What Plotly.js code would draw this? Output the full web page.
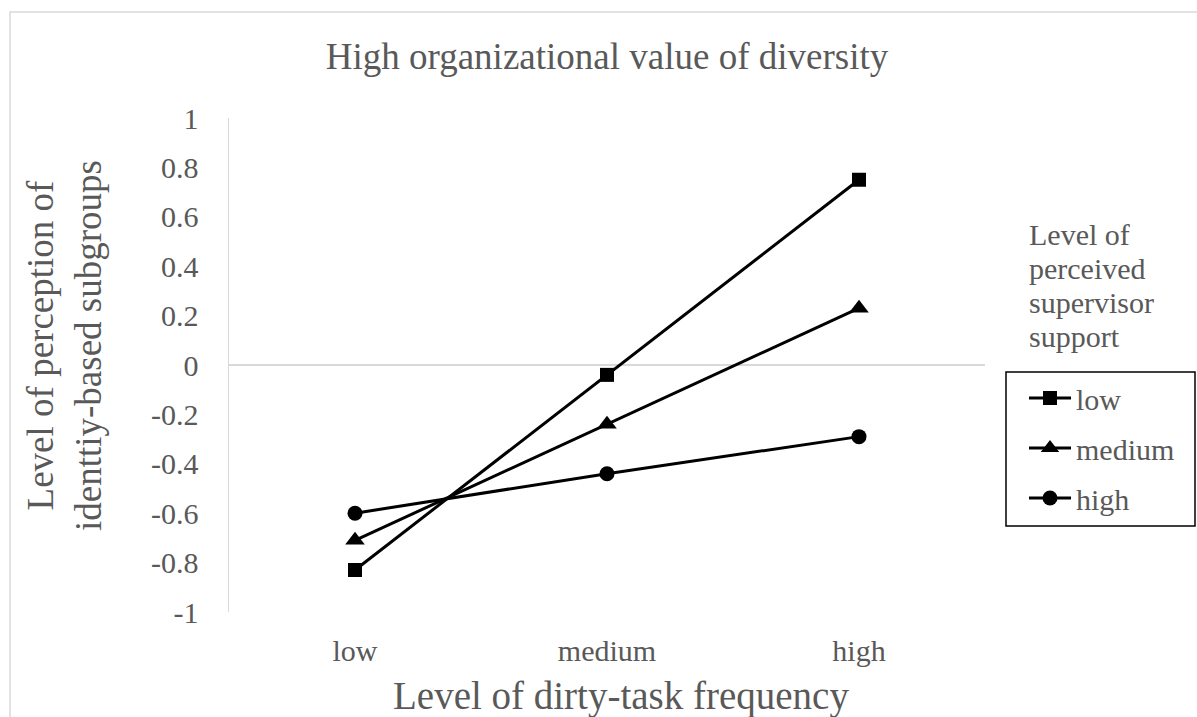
<!DOCTYPE html>
<html>
<head>
<meta charset="utf-8">
<script src="https://cdn.plot.ly/plotly-3.0.1.min.js"></script>
<style>
  html, body { margin: 0; padding: 0; background: #ffffff; }
  #chart { width: 1197px; height: 717px; }
</style>
</head>
<body>
<div id="chart"></div>
<script>
// Dirty-task frequency levels (x categories)
const categories = ['low', 'medium', 'high'];

// Perceived supervisor support series
const seriesNames = ['low', 'medium', 'high'];
const supportLow = [-0.83, -0.04, 0.75];
const supportMedium = [-0.71, -0.24, 0.23];
const supportHigh = [-0.60, -0.44, -0.29];

const yTickValues = [-1, -0.8, -0.6, -0.4, -0.2, 0, 0.2, 0.4, 0.6, 0.8, 1];
const yTickLabels = ['-1', '-0.8', '-0.6', '-0.4', '-0.2', '0', '0.2', '0.4', '0.6', '0.8', '1'];

const chartTitle = 'High organizational value of diversity';
const xTitle = 'Level of dirty-task frequency';
const yTitleLines = ['Level of perception of', 'identtiy-based subgroups'];
const legendTitleLines = ['Level of', 'perceived', 'supervisor', 'support'];

// Page geometry (pixels)
const W = 1197, H = 717;
const plotL = 229, plotR = 985, plotT = 118, plotB = 612;
const pw = plotR - plotL, ph = plotB - plotT;
const px = v => (v - plotL) / pw;   // pixel x -> paper x
const py = v => (plotB - v) / ph;   // pixel y -> paper y

const serif = 'Liberation Serif';
const grey = '#595959';
const axisGrey = '#d9d9d9';

const symbols = ['square', 'triangle-up', 'circle'];
const sizes = [14, 17, 15];
const values = [supportLow, supportMedium, supportHigh];

const traces = values.map((vals, i) => ({
  type: 'scatter',
  mode: 'lines+markers',
  name: seriesNames[i],
  legendgroup: 'g' + i,
  x: categories,
  y: vals,
  line: { color: '#000000', width: 3 },
  marker: { symbol: symbols[i], size: sizes[i], color: '#000000' },
  hoverinfo: 'x+y+name'
}));

const annotations = [];
// Y axis title, two rotated lines
annotations.push({
  xref: 'paper', yref: 'paper',
  x: px(64), y: py(346),
  xanchor: 'center', yanchor: 'middle',
  text: yTitleLines.join('<br>'),
  textangle: -90,
  showarrow: false,
  font: { family: serif, size: 37, color: grey }
});
// X axis title
annotations.push({
  xref: 'paper', yref: 'paper',
  x: px(621), y: py(696),
  xanchor: 'center', yanchor: 'middle',
  text: xTitle,
  showarrow: false,
  font: { family: serif, size: 39, color: grey }
});
// Legend heading, one line per annotation
const headTop = 234, headStep = 34;
legendTitleLines.forEach((t, i) => {
  annotations.push({
    xref: 'paper', yref: 'paper',
    x: px(1027), y: py(headTop + i * headStep),
    xanchor: 'left', yanchor: 'middle',
    text: t,
    showarrow: false,
    font: { family: serif, size: 30, color: grey }
  });
});

const layout = {
  width: W, height: H,
  paper_bgcolor: '#ffffff',
  plot_bgcolor: '#ffffff',
  margin: { l: plotL, r: W - plotR, t: plotT, b: H - plotB, pad: 0 },
  title: {
    text: chartTitle,
    font: { family: serif, size: 37, color: grey },
    xref: 'paper', x: 0.5, xanchor: 'center',
    yref: 'container', y: 1 - 56 / H, yanchor: 'middle'
  },
  xaxis: {
    type: 'category',
    range: [-0.5, 2.5],
    showgrid: false,
    showline: false,
    zeroline: false,
    ticks: '',
    ticklabelstandoff: 18,
    tickfont: { family: serif, size: 30, color: grey },
    automargin: false,
    fixedrange: true
  },
  yaxis: {
    range: [-1, 1],
    tickvals: yTickValues,
    ticktext: yTickLabels,
    showgrid: false,
    showline: true,
    linecolor: axisGrey,
    linewidth: 1.5,
    zeroline: true,
    zerolinecolor: axisGrey,
    zerolinewidth: 1.5,
    ticks: '',
    ticklabelstandoff: 23,
    tickfont: { family: serif, size: 30, color: grey },
    automargin: false,
    fixedrange: true
  },
  showlegend: true,
  legend: {
    x: px(1024), y: py(372),
    xanchor: 'left', yanchor: 'top',
    borderwidth: 0,
    bgcolor: 'rgba(0,0,0,0)',
    font: { family: serif, size: 30, color: grey },
    tracegroupgap: 8,
    itemwidth: 42
  },
  shapes: [
    // outer frame
    {
      type: 'rect', xref: 'paper', yref: 'paper',
      x0: px(10), x1: px(1210), y0: py(12), y1: py(730),
      line: { color: axisGrey, width: 1.5 },
      fillcolor: 'rgba(0,0,0,0)',
      layer: 'below'
    },
    // legend frame
    {
      type: 'rect', xref: 'paper', yref: 'paper',
      x0: px(1006), x1: px(1195), y0: py(372), y1: py(526),
      line: { color: '#000000', width: 1.5 },
      fillcolor: 'rgba(0,0,0,0)',
      layer: 'above'
    }
  ],
  annotations: annotations
};

Plotly.newPlot('chart', traces, layout, { displayModeBar: false, staticPlot: true });
</script>
</body>
</html>
